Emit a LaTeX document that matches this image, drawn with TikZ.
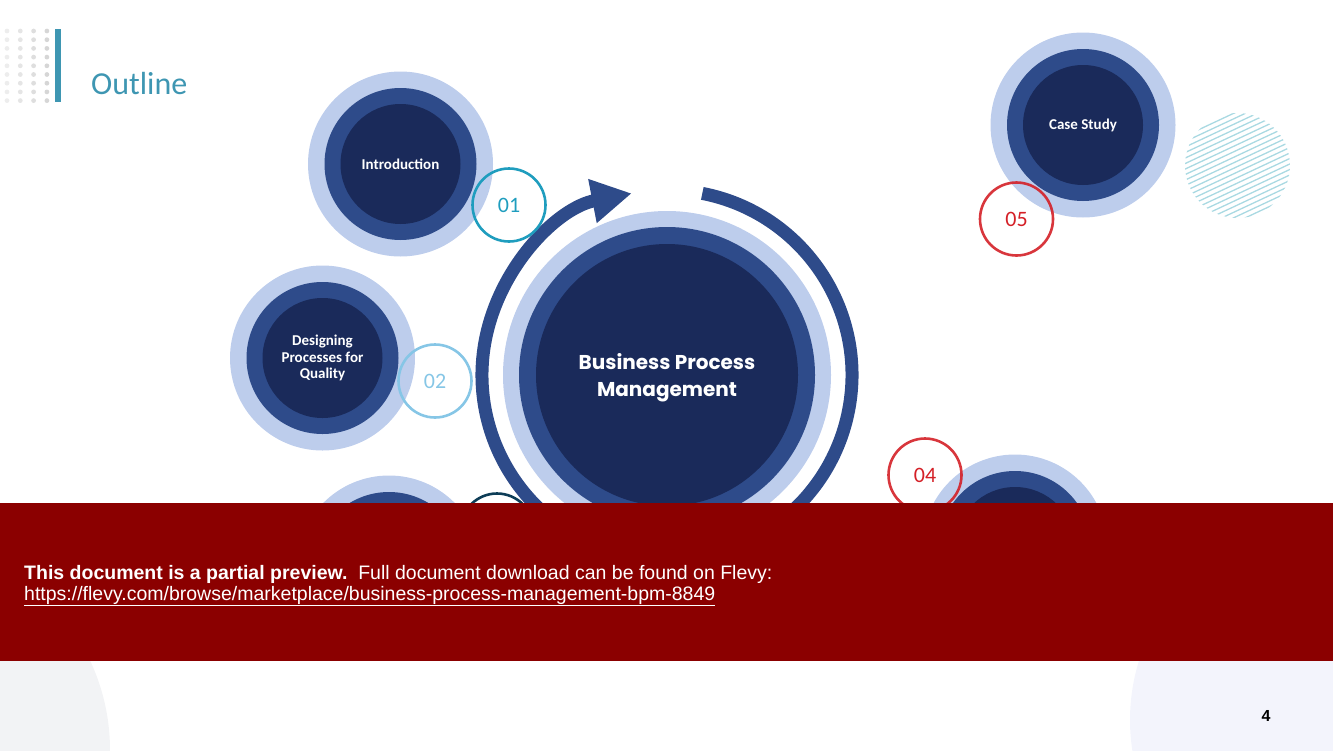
\documentclass[tikz,border=0pt]{standalone}
\usepackage{fontspec}
\setmainfont{Carlito}
\newfontfamily\arialfont{Liberation Sans}
\newfontfamily\gothicfont{Poppins}
\usetikzlibrary{arrows.meta}

\definecolor{ringlight}{HTML}{BDCDEC}
\definecolor{ringmid}{HTML}{2E4B8A}
\definecolor{ringdark}{HTML}{1A2A5A}
\definecolor{numteal}{HTML}{1F9DBE}
\definecolor{numsky}{HTML}{86C6E6}
\definecolor{numnavy}{HTML}{0E3D57}
\definecolor{numred}{HTML}{D42027}
\definecolor{titleteal}{HTML}{3E96B2}
\definecolor{bannerred}{HTML}{8B0000}
\definecolor{hatchteal}{HTML}{A9D9E2}
\definecolor{bggray}{HTML}{F2F3F5}
\definecolor{bglav}{HTML}{F3F4FC}

\tikzset{
  outerring/.style={circle, fill=ringlight, minimum size=185pt, inner sep=0pt},
  midring/.style={circle, fill=ringmid, minimum size=152pt, inner sep=0pt},
  innerring/.style={circle, fill=ringdark, minimum size=120pt, inner sep=0pt,
    text=white, align=center, font=\bfseries\fontsize{15}{16.5}\selectfont},
  numring/.style={circle, draw=#1, text=#1, line width=2.6pt, minimum size=73pt,
    inner sep=0pt, font=\fontsize{22}{22}\selectfont},
  bannertext/.style={anchor=base west, inner sep=0pt, text=white,
    font=\arialfont\fontsize{19.5}{22}\selectfont},
}

\begin{document}
\begin{tikzpicture}[x=1pt, y=-1pt]
\useasboundingbox (0,0) rectangle (1333,750);

% background shapes
\fill[bggray] (-100,750) circle (210pt);
\fill[bglav] (1330,720) circle (200pt);

% header
\foreach \c/\g in {0/7,1/10,2/13,3/16}
  \foreach \r in {0,...,8}
    \fill[black!\g] (7+13.3*\c, 31+8.7*\r) circle (2.4pt);
\fill[titleteal] (55,29) rectangle (61,102);
\node[anchor=base west, inner sep=0pt, text=titleteal,
  font=\fontsize{32}{32}\selectfont] (title) at (91,94) {Outline};

% central hub
\node[circle, fill=ringlight, minimum size=328pt, inner sep=0pt] (hubOut) at (667,375) {};
\node[circle, fill=ringmid, minimum size=296pt, inner sep=0pt] (hubMid) at (hubOut) {};
\node[circle, fill=ringdark, minimum size=262pt, inner sep=0pt] (hub) at (hubOut) {};
\node[text=white, align=center, font=\gothicfont\bfseries\fontsize{20}{27}\selectfont]
  (hubText) at (667,378) {Business Process\\Management};
\draw[ringmid, line width=13pt, -{Triangle[length=40pt, width=42pt]}]
  (hub.center) ++(79:185pt) arc[start angle=79, end angle=-259, radius=185pt];

% stages
\node[outerring] (introOut) at (400.5,164) {};
\node[midring] at (introOut) {};
\node[innerring] (intro) at (introOut) {Introduction};

\node[outerring] (designOut) at (322.5,358) {};
\node[midring] at (designOut) {};
\node[innerring] (design) at (designOut) {Designing\\Processes for\\Quality};

\node[outerring] (thirdOut) at (389,568) {};
\node[midring] at (thirdOut) {};
\node[innerring] (third) at (thirdOut) {};

\node[outerring] (fourthOut) at (1015,547) {};
\node[midring] at (fourthOut) {};
\node[innerring] (fourth) at (fourthOut) {};

\node[outerring] (caseOut) at (1083,125) {};
\node[midring] at (caseOut) {};
\node[innerring] (case) at (caseOut) {Case Study};

% numbers
\node[numring=numteal] (n01) at (509,205) {01};
\node[numring=numsky] (n02) at (435,381) {02};
\node[numring=numnavy] (n03) at (497,530) {};
\node[numring=numred, draw opacity=0.9] (n04) at (925,475) {04};
\node[numring=numred, draw opacity=0.9] (n05) at (1016.5,219) {05};

% hatched circle
\begin{scope}
  \clip (1237.5,165.5) circle (52.5pt);
  \foreach \k in {-24,...,10}
    \draw[hatchteal, line width=1.3pt] (1237.5,165.5) ++(-80pt,\k*5.5pt) -- ++(160pt,75pt);
\end{scope}

% preview banner
\node[fill=bannerred, minimum width=1333pt, minimum height=158pt, inner sep=0pt,
  anchor=north west] (banner) at (0,503) {};
\node[bannertext] (note) at (24,579) {\textbf{This document is a partial preview.}\ \ Full document download can be found on Flevy:};
\node[bannertext] (link) at (24,600) {\underline{https://flevy.com/browse/marketplace/business-process-management-bpm-8849}};

% page number
\node[font=\arialfont\bfseries\fontsize{16}{16}\selectfont] (pagenum) at (1266,716) {4};
\end{tikzpicture}
\end{document}
